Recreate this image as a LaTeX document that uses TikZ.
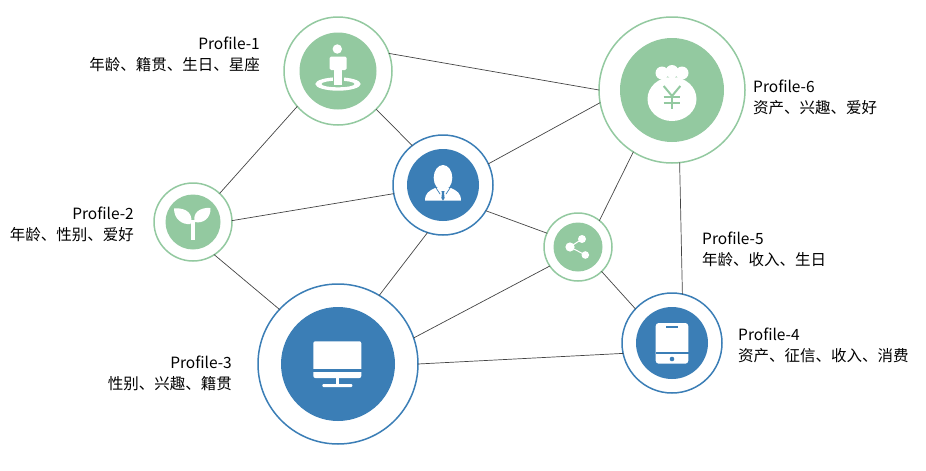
\documentclass[tikz,border=0pt]{standalone}
\usepackage{fontspec}
\setmainfont{Noto Sans CJK SC}
\definecolor{leaf}{HTML}{93C9A0}
\definecolor{ocean}{HTML}{3B7EB6}
\definecolor{wire}{HTML}{444444}
\tikzset{
	ringleaf/.style={circle, draw=leaf, line width=1.5pt, fill=white, inner sep=0pt, outer sep=0pt},
	ringocean/.style={circle, draw=ocean, line width=1.5pt, fill=white, inner sep=0pt, outer sep=0pt},
	wireline/.style={draw=wire, line width=0.7pt},
	caption/.style={inner sep=0pt, font=\fontsize{15.5}{21}\selectfont}
}
\begin{document}
\begin{tikzpicture}[x=1pt, y=-1pt, line cap=round, line join=round]
	
	\useasboundingbox (0,0) rectangle (926,471);
	
	% Vòng ngoài
	\node[ringleaf, minimum size=108pt] (p1) at (338,71) {};
	\node[ringleaf, minimum size=78pt] (p2) at (193,222) {};
	\node[ringocean, minimum size=160pt] (p3) at (338,364) {};
	\node[ringocean, minimum size=100pt] (p4) at (672,343) {};
	\node[ringleaf, minimum size=68pt] (p5) at (578,247) {};
	\node[ringleaf, minimum size=146pt] (p6) at (672,90) {};
	\node[ringocean, minimum size=100pt] (hub) at (443,185) {};
	
	% Các đường nối
	\draw[wireline] (p1.19) -- (p6.180);
	\draw[wireline] (p1.221) -- (p2.47);
	\draw[wireline] (p1.315) -- (hub.128);
	\draw[wireline] (hub.190) -- (p2.2);
	\draw[wireline] (hub.252) -- (p3.59);
	\draw[wireline] (hub.329) -- (p5.156);
	\draw[wireline] (hub.25) -- (p6.190);
	\draw[wireline] (p2.303) -- (p3.137);
	\draw[wireline] (p3.19) -- (p5.214);
	\draw[wireline] (p3.0) -- (p4.192);
	\draw[wireline] (p5.314) -- (p4.137);
	\draw[wireline] (p5.51) -- (p6.238);
	\draw[wireline] (p6.276) -- (p4.78);
	
	% Hình tròn bên trong
	\fill[leaf] (p1.center) circle (38.5);
	\fill[leaf] (p2.center) circle (27.5);
	\fill[ocean] (p3.center) circle (57);
	\fill[ocean] (p4.center) circle (36);
	\fill[leaf] (p5.center) circle (24.5);
	\fill[leaf] (p6.center) circle (52);
	\fill[ocean] (hub.center) circle (36);
	
	% Biểu tượng p1
	\begin{scope}[shift={(p1.center)}]
		\fill[white, even odd rule] (0,13) ellipse [x radius=22.7, y radius=6.7] (0,13) ellipse [x radius=16.7, y radius=3.3];
		\fill[white] (-0.7,-22) circle (4.7);
		\fill[white, rounded corners=1.5pt] (-8.5,-14.5) rectangle (8.7,-1);
		\fill[leaf] (-5.5,3) rectangle (5.5,10);
		\fill[white] (-4,-2) rectangle (4,14);
	\end{scope}
	
	% Biểu tượng p2
	\begin{scope}[shift={(p2.center)}]
		\fill[white] (-1.7,-2) rectangle (1.5,18);
		\fill[white] (-19,-13.5) .. controls (-19,-3) and (-11,3) .. (-2.5,2) .. controls (1,-7) and (-6,-15) .. (-19,-13.5) -- cycle;
		\fill[white] (17.5,-14) .. controls (6,-15) and (-1,-8) .. (2,0) .. controls (10,2) and (18,-4) .. (17.5,-14) -- cycle;
	\end{scope}
	
	% Biểu tượng p3
	\begin{scope}[shift={(p3.center)}]
		\fill[white, rounded corners=2pt] (-24.7,-22.7) rectangle (23.3,14);
		\fill[ocean] (-25,5) rectangle (24,8.3);
		\fill[white] (-2,13) rectangle (1,21);
		\fill[white, rounded corners=1pt] (-15.7,20) rectangle (14.3,23);
	\end{scope}
	
	% Biểu tượng p4
	\begin{scope}[shift={(p4.center)}]
		\fill[white, rounded corners=3pt] (-16.3,-20) rectangle (16.3,20.7);
		\fill[ocean] (-16.5,9) rectangle (16.5,11.3);
		\fill[ocean] (-6.3,-16.7) rectangle (6.3,-14.7);
		\fill[ocean] (0,16) circle (2.3);
	\end{scope}
	
	% Biểu tượng p5
	\begin{scope}[shift={(p5.center)}]
		\draw[white, line width=1pt] (4,-8) -- (-8,0) -- (7.3,8);
		\fill[white] (4,-8) circle (4);
		\fill[white] (-8,0) circle (4.6);
		\fill[white] (7.3,8) circle (3.8);
	\end{scope}
	
	% Biểu tượng p6
	\begin{scope}[shift={(p6.center)}]
		\fill[white] (-10,-17) circle (6.5);
		\fill[white] (0,-18.5) circle (6.5);
		\fill[white] (10,-17) circle (6.5);
		\fill[white] (0,9) ellipse [x radius=24.5, y radius=22];
		\draw[leaf, line width=2pt, line cap=butt] (-8.3,-4) -- (0,6) -- (8.3,-4);
		\draw[leaf, line width=2pt, line cap=butt] (0,6) -- (0,19.3);
		\draw[leaf, line width=2pt, line cap=butt] (-8.3,7.3) -- (8.3,7.3);
		\draw[leaf, line width=2pt, line cap=butt] (-8.3,12.7) -- (8.3,12.7);
	\end{scope}
	
	% Biểu tượng hub
	\begin{scope}[shift={(hub.center)}]
		\fill[white] (-18,15.7) .. controls (-18,8) and (-14,6) .. (-8,3) -- (8,3) .. controls (14,6) and (18,8) .. (18,15.7) -- cycle;
		\draw[ocean, line width=0.7pt] (-7,3) -- (-3,9);
		\draw[ocean, line width=0.7pt] (7,3) -- (3,9);
		\fill[ocean] (-1.6,6) -- (1.6,6) -- (1,8) -- (1.6,13) -- (0,15.7) -- (-1.6,13) -- (-1,8) -- cycle;
		\fill[white] (0,-7.3) ellipse [x radius=9.3, y radius=12.7];
	\end{scope}
	
	% Nhãn
	\node[caption, anchor=east, align=right] (t1) at (260,54) {Profile-1\\年龄、籍贯、生日、星座};
	\node[caption, anchor=east, align=right] (t2) at (134,224.5) {Profile-2\\年龄、性别、爱好};
	\node[caption, anchor=east, align=right] (t3) at (232,373) {Profile-3\\性别、兴趣、籍贯};
	\node[caption, anchor=west, align=left] (t4) at (738,345) {Profile-4\\资产、征信、收入、消费};
	\node[caption, anchor=west, align=left] (t5) at (702,249) {Profile-5\\年龄、收入、生日};
	\node[caption, anchor=west, align=left] (t6) at (753,97) {Profile-6\\资产、兴趣、爱好};
	
\end{tikzpicture}
\end{document}
